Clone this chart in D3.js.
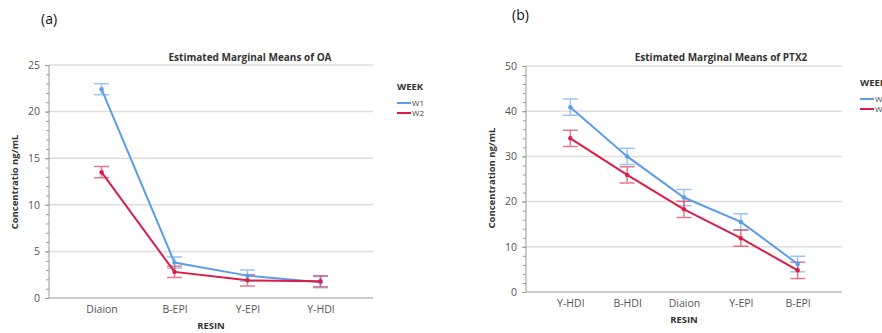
<!DOCTYPE html>
<html>
<head>
<meta charset="utf-8" />
<title>Estimated Marginal Means</title>
<script src="https://cdn.jsdelivr.net/npm/d3@7"></script>
<style>
  body { margin: 0; background: #fff; }
  text { font-family: "Open Sans", "DejaVu Sans", sans-serif; }
  .tick text { fill: #555; font-size: 10.5px; }
  .grid line { stroke: #dedede; stroke-width: 1.5px; }
  .axis path, .axis line { stroke: #999; }
</style>
</head>
<body>
<div id="chart"></div>
<script>
// panel (a): OA
var oaCategories = ["Diaion", "B-EPI", "Y-EPI", "Y-HDI"];
var oaW1 = [22.4, 3.8, 2.4, 1.7];
var oaW2 = [13.5, 2.8, 1.9, 1.8];
var oaErrW1 = [0.6, 0.6, 0.6, 0.6];
var oaErrW2 = [0.6, 0.6, 0.6, 0.6];
var oaTicks = [0, 5, 10, 15, 20, 25];

// panel (b): PTX2
var ptxCategories = ["Y-HDI", "B-HDI", "Diaion", "Y-EPI", "B-EPI"];
var ptxW1 = [40.9, 30.0, 20.9, 15.5, 6.2];
var ptxW2 = [34.0, 25.9, 18.3, 11.9, 4.8];
var ptxErrW1 = [1.8, 1.8, 1.8, 1.8, 1.7];
var ptxErrW2 = [1.8, 1.8, 1.8, 1.8, 1.8];
var ptxTicks = [0, 10, 20, 30, 40, 50];

var weeks = ["W1", "W2"];
var colors = { W1: "#5b9de9", W2: "#d91e48" };

var svg = d3.select("#chart").append("svg")
    .attr("width", 882)
    .attr("height", 333);

function drawPanel(o) {
    var x = d3.scalePoint().domain(o.categories).range([o.left, o.right]).padding(o.pad);
    var y = d3.scaleLinear().domain([0, o.ticks[o.ticks.length - 1]]).range([o.bottom, o.top]);
    var g = svg.append("g");

    // gridlines
    g.append("g").attr("class", "grid")
      .selectAll("line")
      .data(o.ticks.slice(1))
      .enter().append("line")
        .attr("x1", o.left).attr("x2", o.right)
        .attr("y1", function(d) { return y(d); })
        .attr("y2", function(d) { return y(d); });

    // minor ticks
    g.append("g").attr("class", "axis")
      .attr("transform", "translate(" + o.left + ",0)")
      .call(d3.axisLeft(y).tickValues(d3.range(0, o.ticks[o.ticks.length - 1] + 0.001, o.minor)).tickSize(3).tickFormat(""))
      .call(function(s) { s.select(".domain").remove(); });

    g.append("g").attr("class", "axis")
      .attr("transform", "translate(" + o.left + ",0)")
      .call(d3.axisLeft(y).tickValues(o.ticks).tickSize(4).tickPadding(5))
      .select(".domain").attr("d", "M0," + o.top + "V" + o.bottom);

    g.append("g").attr("class", "axis")
      .attr("transform", "translate(0," + o.bottom + ")")
      .call(d3.axisBottom(x).tickSize(0).tickPadding(8))
      .select(".domain").attr("d", "M" + o.left + ",0H" + o.right);

    var series = [
        { key: "W1", vals: o.w1, err: o.e1 },
        { key: "W2", vals: o.w2, err: o.e2 }
    ];

    series.forEach(function(s) {
        var pts = o.categories.map(function(c, i) { return { c: c, v: s.vals[i], e: s.err[i] }; });
        var eg = g.append("g")
            .attr("stroke", colors[s.key])
            .attr("stroke-opacity", 0.6)
            .attr("stroke-width", 1.5);
        eg.selectAll(".bar").data(pts).enter().append("path")
            .attr("fill", "none")
            .attr("d", function(d) {
                var cx = x(d.c), hi = y(d.v + d.e), lo = y(d.v - d.e);
                return "M" + (cx - 7.5) + "," + hi + "H" + (cx + 7.5) +
                    "M" + cx + "," + hi + "V" + lo +
                    "M" + (cx - 7.5) + "," + lo + "H" + (cx + 7.5);
            });
    });

    series.forEach(function(s) {
        var pts = o.categories.map(function(c, i) { return { c: c, v: s.vals[i] }; });
        g.append("path").datum(pts)
            .attr("fill", "none")
            .attr("stroke", colors[s.key])
            .attr("stroke-width", 2)
            .attr("d", d3.line().x(function(d) { return x(d.c); }).y(function(d) { return y(d.v); }));
        g.selectAll(null).data(pts).enter().append("circle")
            .attr("cx", function(d) { return x(d.c); })
            .attr("cy", function(d) { return y(d.v); })
            .attr("r", 2.2)
            .attr("fill", colors[s.key]);
    });

    // titles
    g.append("text").attr("x", o.titleX).attr("y", 61)
        .attr("text-anchor", "middle").attr("font-size", 10).attr("font-weight", "bold").attr("fill", "#333")
        .text(o.title);
    g.append("text").attr("x", (o.left + o.right) / 2 + o.resinDx).attr("y", o.resinY)
        .attr("text-anchor", "middle").attr("font-size", 9.5).attr("font-weight", "bold").attr("fill", "#333")
        .text("RESIN");
    g.append("text")
        .attr("transform", "translate(" + o.ylabX + "," + o.ylabY + ") rotate(-90)")
        .attr("text-anchor", "middle").attr("font-size", 9.5).attr("font-weight", "bold").attr("fill", "#333")
        .text(o.ylab);
    g.append("text").attr("x", o.tagX).attr("y", o.tagY)
        .attr("font-size", 14).attr("fill", "#111")
        .text(o.tag);

    // legend
    var lg = g.append("g").attr("transform", "translate(" + o.legX + "," + o.legY + ")");
    lg.append("text").attr("x", 0).attr("y", 0)
        .attr("font-size", 9.5).attr("font-weight", "bold").attr("fill", "#333").text("WEEK");
    weeks.forEach(function(w, i) {
        lg.append("line").attr("x1", 0).attr("x2", 14)
            .attr("y1", 13 + i * 10).attr("y2", 13 + i * 10)
            .attr("stroke", colors[w]).attr("stroke-width", 2);
        lg.append("text").attr("x", 15).attr("y", 16 + i * 10)
            .attr("font-size", 8).attr("fill", "#444").text(w);
    });
}

drawPanel({
    categories: oaCategories, w1: oaW1, w2: oaW2, e1: oaErrW1, e2: oaErrW2,
    ticks: oaTicks, minor: 1,
    left: 49, right: 373, top: 65, bottom: 298, pad: 0.72,
    title: "Estimated Marginal Means of OA", titleX: 250,
    resinDx: 0, resinY: 329,
    ylab: "Concentratio ng/mL", ylabX: 18, ylabY: 182,
    tag: "(a)", tagX: 41, tagY: 24,
    legX: 397, legY: 90
});

drawPanel({
    categories: ptxCategories, w1: ptxW1, w2: ptxW2, e1: ptxErrW1, e2: ptxErrW2,
    ticks: ptxTicks, minor: 2,
    left: 526, right: 842, top: 66, bottom: 292, pad: 0.78,
    title: "Estimated Marginal Means of PTX2", titleX: 721,
    resinDx: 0, resinY: 323,
    ylab: "Concentration ng/mL", ylabX: 495, ylabY: 178,
    tag: "(b)", tagX: 512, tagY: 20,
    legX: 860, legY: 86
});
</script>
</body>
</html>
